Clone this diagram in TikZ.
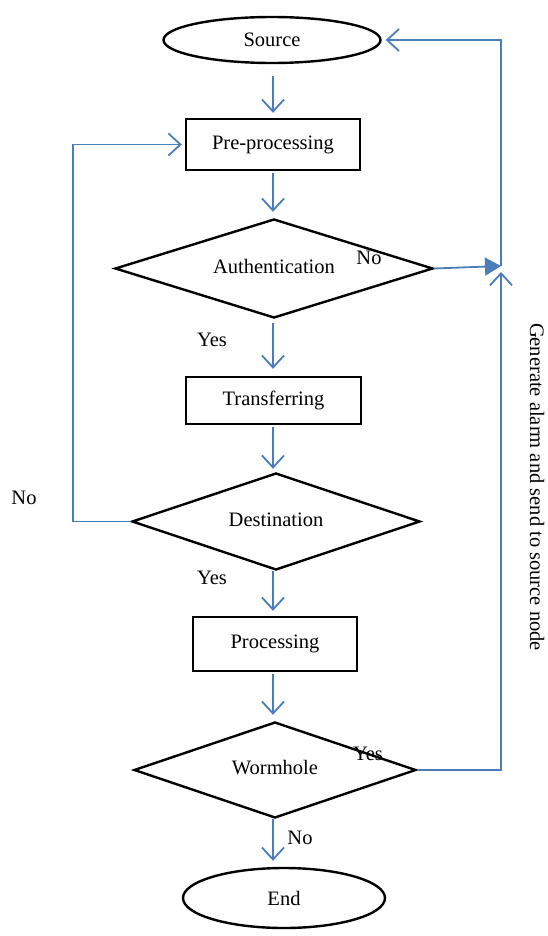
\documentclass[tikz,border=0pt]{standalone}
\usepackage{fontspec}
\setmainfont{Liberation Serif}
\usetikzlibrary{shapes.geometric,arrows.meta,calc}
\definecolor{flowblue}{HTML}{4A7EBB}
\begin{document}
\begin{tikzpicture}[x=1pt,y=-1pt,
  txt/.style={font=\fontsize{20.5}{24}\selectfont},
  term/.style={ellipse,draw,line width=2.4pt,txt,inner sep=0pt},
  procbox/.style={rectangle,draw,line width=2.4pt,txt,inner sep=0pt},
  decide/.style={diamond,draw,line width=2.4pt,aspect=3.2,inner sep=0pt,txt},
  arr/.style={draw=flowblue,line width=1.8pt,-{Straight Barb[length=12pt,width=22pt]}},
  lbl/.style={txt}]
\useasboundingbox (0,0) rectangle (548,936);
\coordinate (axis) at (273,0);
\coordinate (lx) at (73,0);
\coordinate (rx) at (501,0);
\coordinate (j) at (501,266);
\node[term,minimum width=217pt,minimum height=46pt] (src) at (272,40) {Source};
\node[procbox,minimum width=174pt,minimum height=51pt] (pre) at (273,144.5) {Pre-processing};
\node[decide,minimum width=318pt,minimum height=99pt] (auth) at (274,268.5) {\raisebox{5pt}{Authentication}};
\node[procbox,minimum width=175pt,minimum height=47pt] (trans) at (273.5,400.5) {Transferring};
\node[decide,minimum width=288pt,minimum height=97pt] (dest) at (276,521.5) {\raisebox{4pt}{Destination}};
\node[procbox,minimum width=164pt,minimum height=54pt] (proc) at (275,644) {\raisebox{3pt}{Processing}};
\node[decide,minimum width=282pt,minimum height=96pt] (worm) at (275,770) {\raisebox{5pt}{Wormhole}};
\node[term,minimum width=202pt,minimum height=60pt] (end) at (284,898) {End};
% main flow
\draw[arr,shorten <=12pt,shorten >=5pt] (src.south -| axis) -- (pre.north -| axis);
\draw[arr,shorten <=2pt,shorten >=6pt] (pre.south -| axis) -- (auth.north -| axis);
\draw[arr,shorten <=4pt,shorten >=7pt] (auth.south -| axis) -- (trans.north -| axis);
\draw[arr,shorten <=2pt,shorten >=3pt] (trans.south -| axis) -- (dest.north -| axis);
\draw[arr,shorten >=5pt] (dest.south -| axis) -- (proc.north -| axis);
\draw[arr,shorten <=2pt,shorten >=6pt] (proc.south -| axis) -- (worm.north -| axis);
\draw[arr,shorten >=6pt] (worm.south -| axis) -- (end.north -| axis);
% loop back to pre-processing
\draw[arr,shorten >=3pt] (dest.west) -- (dest.west -| lx) -- (pre.west -| lx) -- (pre.west);
% right side
\draw[arr,shorten >=6pt] (worm.east) -- (worm.east -| rx) -- (j);
\draw[draw=flowblue,line width=1.8pt,-{Triangle[length=16pt,width=18pt]}] (auth.east) -- (j);
\draw[arr,shorten >=4pt] (j) -- (j |- src.east) -- (src.east);
% labels
\node[lbl] (no1) at (369,258) {No};
\node[lbl] (yes1) at (212,340) {Yes};
\node[lbl] (no2) at (24,498) {No};
\node[lbl] (yes2) at (212,578) {Yes};
\node[lbl] (yes3) at (368,754) {Yes};
\node[lbl] (no3) at (300,838) {No};
\node[lbl,rotate=-90,anchor=base] (alarm) at (530,487) {Generate alarm and send to source node};
\end{tikzpicture}
\end{document}
